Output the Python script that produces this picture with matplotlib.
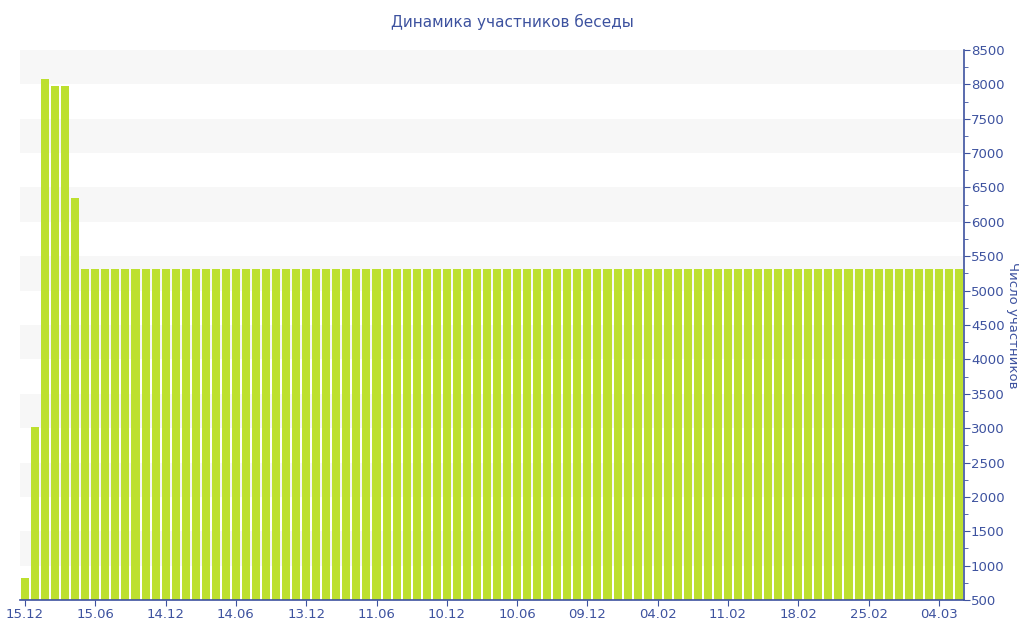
import numpy as np
import matplotlib.pyplot as plt
from matplotlib.ticker import MultipleLocator

# число участников по дням (94 точки)
members = [
    820, 3020, 8080, 7970, 7970, 6340,
    5310, 5310, 5310, 5310, 5310, 5310, 5310, 5310, 5310, 5310, 5310,
    5310, 5310, 5310, 5310, 5310, 5310, 5310, 5310, 5310, 5310, 5310,
    5310, 5310, 5310, 5310, 5310, 5310, 5310, 5310, 5310, 5310, 5310,
    5310, 5310, 5310, 5310, 5310, 5310, 5310, 5310, 5310, 5310, 5310,
    5310, 5310, 5310, 5310, 5310, 5310, 5310, 5310, 5310, 5310, 5310,
    5310, 5310, 5310, 5310, 5310, 5310, 5310, 5310, 5310, 5310, 5310,
    5310, 5310, 5310, 5310, 5310, 5310, 5310, 5310, 5310, 5310, 5310,
    5310, 5310, 5310, 5310, 5310, 5310, 5310, 5310, 5310, 5310, 5310,
]
tick_labels = ['15.12', '15.06', '14.12', '14.06', '13.12', '11.06', '10.12',
               '10.06', '09.12', '04.02', '11.02', '18.02', '25.02', '04.03']
label_step = 7

text_color = '#3d529f'
bar_color = '#bde02f'
band_color = '#f7f7f7'


def main():
    fig = plt.figure(figsize=(10.24, 6.4), dpi=100)
    ax = fig.add_axes([20 / 1024, 40 / 640, 944 / 1024, 550 / 640])

    # полосы фона
    for lo in range(1000, 8500, 1000):
        ax.axhspan(lo, lo + 500, color=band_color, lw=0, zorder=0)
    ax.axhspan(8000, 8500, color=band_color, lw=0, zorder=0)

    x = np.arange(len(members))
    ax.bar(x, members, width=0.8, color=bar_color, zorder=2)

    ax.set_xlim(-0.5, len(members) - 0.5)
    ax.set_ylim(500, 8500)

    ax.set_xticks(x[::label_step][:len(tick_labels)])
    ax.set_xticklabels(tick_labels)

    ax.yaxis.tick_right()
    ax.yaxis.set_major_locator(MultipleLocator(500))
    ax.yaxis.set_minor_locator(MultipleLocator(250))
    ax.set_ylabel('Число участников', rotation=-90, color=text_color,
                  fontsize=9.5, va='center', ha='center')
    ax.yaxis.set_label_coords((1012 - 20) / 944, 0.5)

    for side in ['top', 'left']:
        ax.spines[side].set_visible(False)
    for side in ['right', 'bottom']:
        ax.spines[side].set_color(text_color)
        ax.spines[side].set_linewidth(1.2)

    ax.tick_params(axis='x', colors=text_color, labelcolor=text_color,
                   labelsize=9.5, length=4, pad=2)
    ax.tick_params(axis='y', colors=text_color, labelcolor=text_color,
                   labelsize=9.5, length=4, pad=1)
    ax.tick_params(axis='y', which='minor', colors=text_color, length=3)

    fig.text(0.5, 1 - 22 / 640, 'Динамика участников беседы', ha='center',
             va='center', color=text_color, fontsize=11)

    fig.savefig('out.png', dpi=100)


if __name__ == '__main__':
    main()
